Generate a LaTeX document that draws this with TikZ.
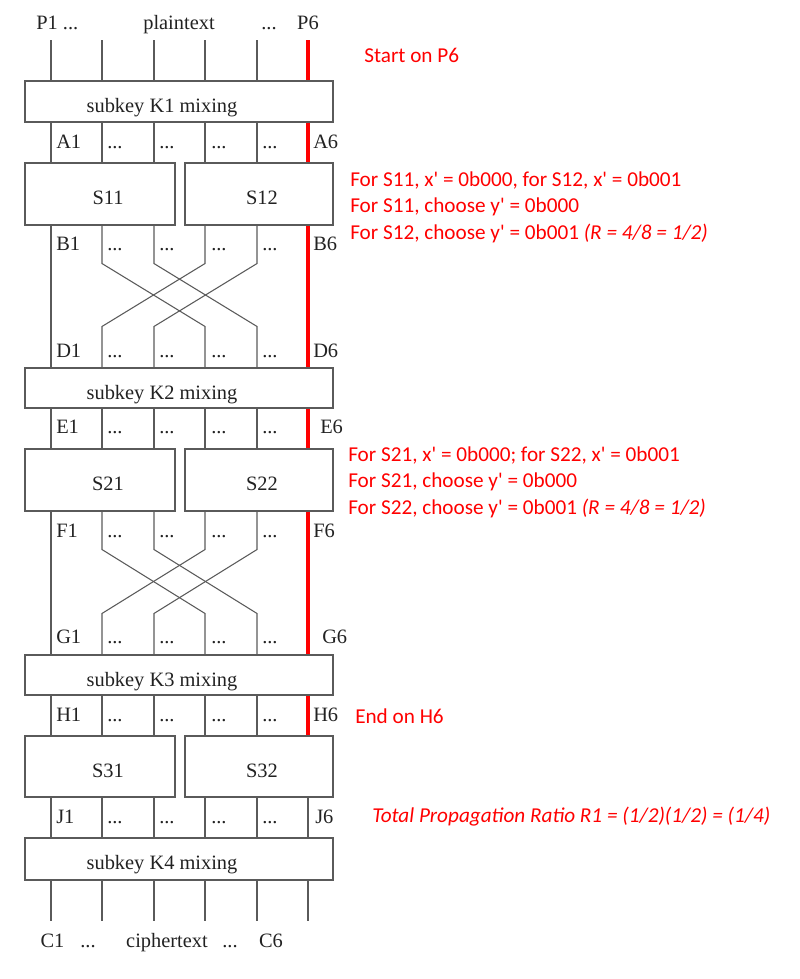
\documentclass[tikz,border=0pt]{standalone}
\usepackage{fontspec}
\setmainfont{Liberation Serif}
\newfontfamily\calfont[Ligatures=ResetAll]{Carlito}
\usetikzlibrary{fit,calc}
\definecolor{wire}{HTML}{5A5A5A}
\definecolor{hl}{HTML}{FF0000}
\definecolor{ink}{HTML}{222222}
\tikzset{
  wireline/.style={draw=wire, line width=0.8pt},
  redline/.style={draw=hl, line width=2.3pt},
  boxnode/.style={draw=wire, line width=0.8pt, fill=white, inner sep=0pt, rectangle},
  lbl/.style={anchor=base west, inner sep=0pt, font=\fontsize{15.3}{18}\selectfont, text=ink},
  boxtext/.style={anchor=base, inner sep=0pt, font=\fontsize{15.3}{18}\selectfont, text=ink},
  note/.style={anchor=base west, inner sep=0pt, font=\calfont\fontsize{15.9}{20}\selectfont, text=hl},
}
\begin{document}
\begin{tikzpicture}[x=0.75pt,y=-0.75pt]
\useasboundingbox (0,0) rectangle (800,979);
% wire columns
\foreach \i/\x in {1/51,2/102,3/154,4/205,5/257,6/308}{\coordinate (w\i) at (\x,0);}
\coordinate (top) at (0,40);
\coordinate (bot) at (0,921);
% boxes
\node[boxnode, fit={(25,81) (333,122)}] (k1) {};
\node[boxnode, fit={(25,163) (175,225)}] (s11) {};
\node[boxnode, fit={(185,163) (333,225)}] (s12) {};
\node[boxnode, fit={(25,368) (333,408)}] (k2) {};
\node[boxnode, fit={(25,449) (175,511)}] (s21) {};
\node[boxnode, fit={(185,449) (333,511)}] (s22) {};
\node[boxnode, fit={(25,655) (333,695)}] (k3) {};
\node[boxnode, fit={(25,736) (175,797)}] (s31) {};
\node[boxnode, fit={(185,736) (333,797)}] (s32) {};
\node[boxnode, fit={(25,838) (333,880)}] (k4) {};
% box texts
\node[boxtext] (tk1) at (162,112) {subkey K1 mixing};
\node[boxtext] (tk2) at (162,399) {subkey K2 mixing};
\node[boxtext] (tk3) at (162,686) {subkey K3 mixing};
\node[boxtext] (tk4) at (162,869) {subkey K4 mixing};
\node[boxtext] (ts11) at (108,204) {S11};
\node[boxtext] (ts12) at (262,204) {S12};
\node[boxtext] (ts21) at (108,490) {S21};
\node[boxtext] (ts22) at (262,490) {S22};
\node[boxtext] (ts31) at (108,777) {S31};
\node[boxtext] (ts32) at (262,777) {S32};
% straight wires
\foreach \i in {1,...,6}{
  \draw[wireline] (w\i |- top) -- (w\i |- k1.north);
  \draw[wireline] (w\i |- k1.south) -- (w\i |- s11.north);
  \draw[wireline] (w\i |- k2.south) -- (w\i |- s21.north);
  \draw[wireline] (w\i |- k3.south) -- (w\i |- s31.north);
  \draw[wireline] (w\i |- s31.south) -- (w\i |- k4.north);
  \draw[wireline] (w\i |- k4.south) -- (w\i |- bot);
}
\foreach \i in {1,6}{
  \draw[wireline] (w\i |- s11.south) -- (w\i |- k2.north);
  \draw[wireline] (w\i |- s21.south) -- (w\i |- k3.north);
}
% permutations
\foreach \a/\b in {2/4,3/5,4/2,5/3}{
  \draw[wireline] (w\a |- s11.south) -- ++(0,38) -- ($(w\b |- k2.north)+(0,-41)$) -- (w\b |- k2.north);
  \draw[wireline] (w\a |- s21.south) -- ++(0,38) -- ($(w\b |- k3.north)+(0,-41)$) -- (w\b |- k3.north);
}
% highlighted path
\draw[redline] (w6 |- top) -- (w6 |- k1.north);
\draw[redline] (w6 |- k1.south) -- (w6 |- s12.north);
\draw[redline] (w6 |- s12.south) -- (w6 |- k2.north);
\draw[redline] (w6 |- k2.south) -- (w6 |- s22.north);
\draw[redline] (w6 |- s22.south) -- (w6 |- k3.north);
\draw[redline] (w6 |- k3.south) -- (w6 |- s32.north);
% top and bottom labels
\node[lbl] (lp1) at (36,29) {P1 ...};
\node[boxtext] (lpt) at (179,29) {plaintext};
\node[boxtext] (lpd) at (269,29) {...};
\node[boxtext] (lp6) at (308,29) {P6};
\node[boxtext] (lc1) at (52.5,947) {C1};
\node[boxtext] (lcd1) at (88,947) {...};
\node[boxtext] (lct) at (167,947) {ciphertext};
\node[boxtext] (lcd2) at (230,947) {...};
\node[boxtext] (lc6) at (271,947) {C6};
% row labels
\foreach \r/\y/\rx/\rr in {A/148/313/A6, B/250/313/B6, D/357/313/D6, E/433/320/E6, F/537/313/F6, G/643/322/G6, H/721/313/H6, J/823/315/J6}{
  \node[lbl] (l\r1) at (56,\y) {\r1};
  \foreach \k/\dx in {2/107,3/159,4/211,5/262}{
    \node[lbl] (l\r\k) at (\dx,\y) {...};
  }
  \node[lbl] (l\r6) at (\rx,\y) {\rr};
}
% annotations
\node[note] (n0) at (364,62) {Start on P6};
\node[note] (n1) at (350,186) {For S11, x' = 0b000, for S12, x' = 0b001};
\node[note] (n2) at (350,212.5) {For S11, choose y' = 0b000};
\node[note] (n3) at (350,239) {For S12, choose y' = 0b001 {\itshape (R = 4/8 = 1/2)}};
\node[note] (n4) at (348,461) {For S21, x' = 0b000; for S22, x' = 0b001};
\node[note] (n5) at (348,487.5) {For S21, choose y' = 0b000};
\node[note] (n6) at (348,514) {For S22, choose y' = 0b001 {\itshape (R = 4/8 = 1/2)}};
\node[note] (n7) at (355,723) {End on H6};
\node[note] (n8) at (372,822) {\itshape Total Propagation Ratio R1 = (1/2)(1/2) = (1/4)};
\end{tikzpicture}
\end{document}
